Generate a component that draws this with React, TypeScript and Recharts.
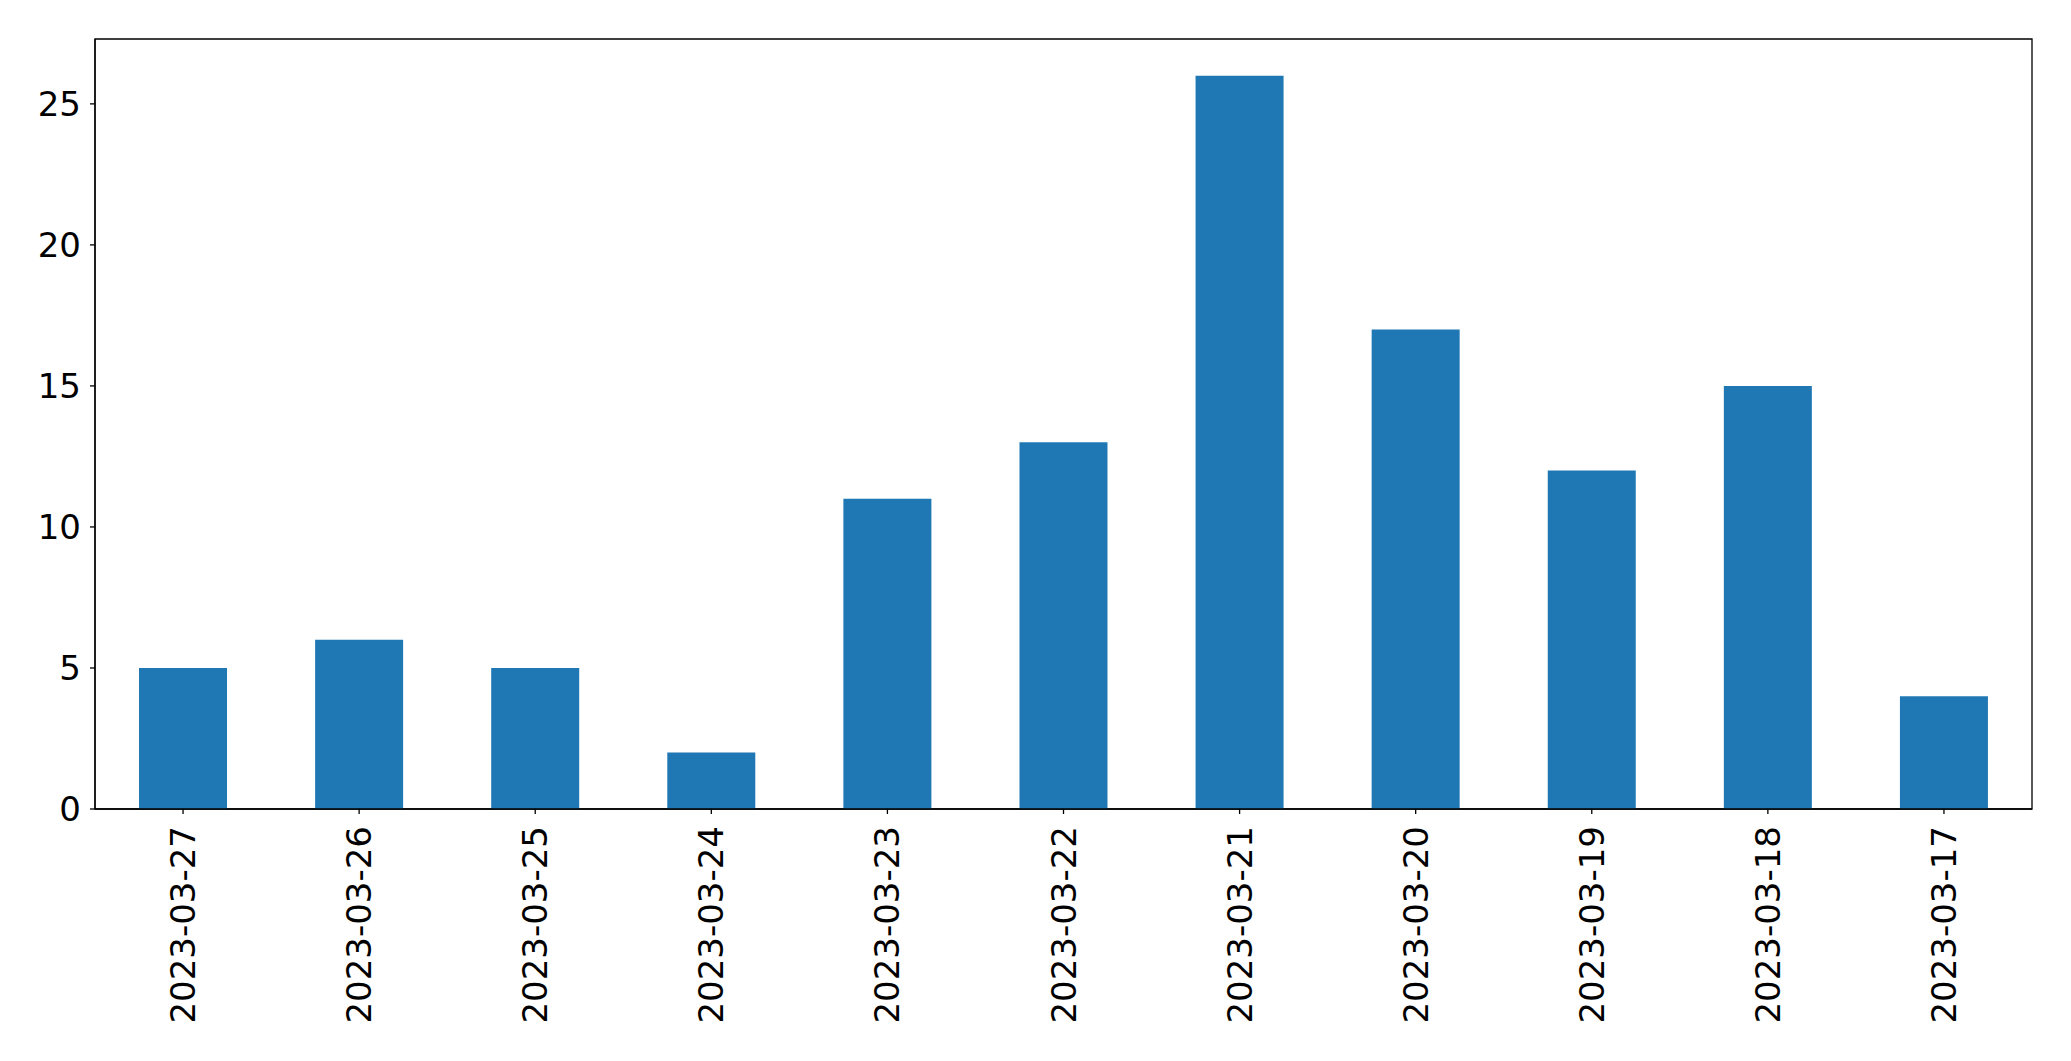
import { BarChart, Bar, XAxis, YAxis, ReferenceArea } from "recharts";

const dates = [
  "2023-03-27",
  "2023-03-26",
  "2023-03-25",
  "2023-03-24",
  "2023-03-23",
  "2023-03-22",
  "2023-03-21",
  "2023-03-20",
  "2023-03-19",
  "2023-03-18",
  "2023-03-17",
];
const counts = [5, 6, 5, 2, 11, 13, 26, 17, 12, 15, 4];
const yTicks = [0, 5, 10, 15, 20, 25];
const yMax = 27.3;

const data = dates.map((d, i) => ({ date: d, count: counts[i] }));

const font = "'DejaVu Sans', sans-serif";

function DateTick(props: any) {
  const { x, y, payload } = props;
  return (
    <text
      x={x}
      y={y}
      transform={`rotate(-90, ${x}, ${y})`}
      textAnchor="end"
      dominantBaseline="central"
      fontSize={34}
      fontFamily={font}
      fill="#000"
    >
      {payload.value}
    </text>
  );
}

export default function App() {
  return (
    <div style={{ position: "absolute", left: 0, top: 0, background: "#fff" }}>
      <BarChart
        width={2071}
        height={1061}
        data={data}
        margin={{ top: 39, right: 39, bottom: 0, left: 0 }}
        barCategoryGap="25%"
      >
        <XAxis
          dataKey="date"
          height={252}
          interval={0}
          tick={<DateTick />}
          tickSize={5}
          tickMargin={12}
          axisLine={{ stroke: "#000", strokeWidth: 1.3 }}
          tickLine={{ stroke: "#000", strokeWidth: 1.3 }}
        />
        <YAxis
          width={95}
          domain={[0, yMax]}
          ticks={yTicks}
          tickSize={5}
          tickMargin={9}
          tick={{ fontSize: 34, fontFamily: font, fill: "#000" }}
          axisLine={{ stroke: "#000", strokeWidth: 1.3 }}
          tickLine={{ stroke: "#000", strokeWidth: 1.3 }}
        />
        {/* frame around the plot, like matplotlib's four spines */}
        <ReferenceArea
          y1={0}
          y2={yMax}
          fill="none"
          fillOpacity={0}
          stroke="#000"
          strokeWidth={1.3}
          strokeOpacity={1}
        />
        <Bar dataKey="count" fill="#1f77b4" isAnimationActive={false} />
      </BarChart>
    </div>
  );
}
